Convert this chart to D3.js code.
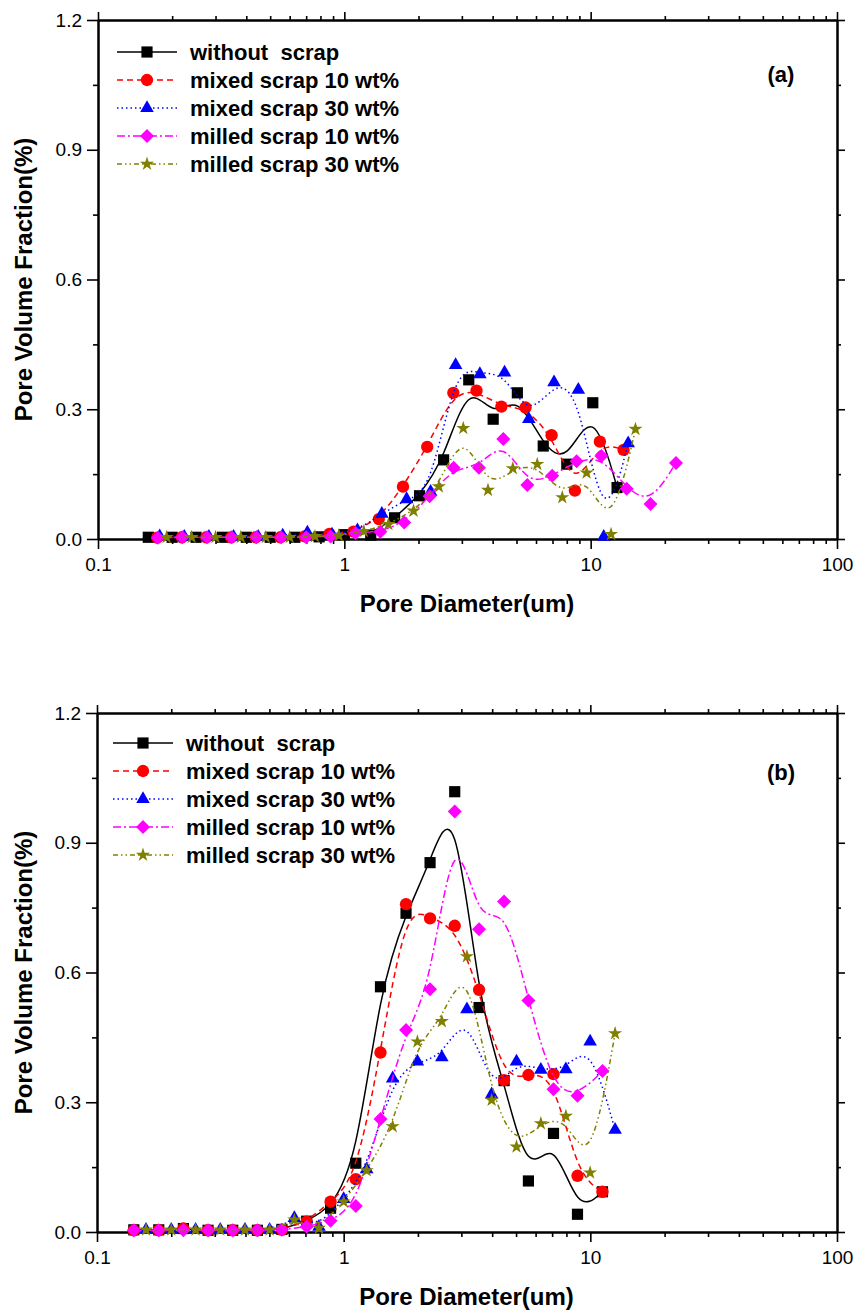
<!DOCTYPE html>
<html>
<head>
<meta charset="utf-8">
<script src="https://cdn.jsdelivr.net/npm/d3@7"></script>
<style>
  body { margin: 0; background: #fff; }
  text { font-family: Arial, "Liberation Sans", sans-serif; }
</style>
</head>
<body>
<div id="chart"></div>
<script>

// legend labels, one per series
const seriesNames = ["without  scrap", "mixed scrap 10 wt%", "mixed scrap 30 wt%", "milled scrap 10 wt%", "milled scrap 30 wt%"];

// tick labels
const xTicks = [0.1, 1, 10, 100];
const xTickLabels = ["0.1", "1", "10", "100"];
const yTicks = [0, 0.3, 0.6, 0.9, 1.2];
const yTickLabels = ["0.0", "0.3", "0.6", "0.9", "1.2"];

// ---- panel (a) : pore diameter (um) / pore volume fraction (%)
const diamA_without = [0.16, 0.2, 0.25, 0.32, 0.4, 0.5, 0.63, 0.79, 1.0, 1.28, 1.6, 2.02, 2.53, 3.2, 4.02, 5.04, 6.42, 8.0, 10.2, 12.8];
const fracA_without = [0.004, 0.004, 0.004, 0.004, 0.004, 0.004, 0.004, 0.005, 0.01, 0.009, 0.049, 0.10, 0.183, 0.368, 0.277, 0.338, 0.215, 0.173, 0.315, 0.119];

const diamA_mixed10 = [0.174, 0.219, 0.275, 0.347, 0.437, 0.55, 0.69, 0.87, 1.09, 1.38, 1.73, 2.17, 2.77, 3.44, 4.34, 5.44, 6.94, 8.63, 10.9, 13.6];
const fracA_mixed10 = [0.003, 0.004, 0.004, 0.004, 0.004, 0.004, 0.006, 0.012, 0.017, 0.046, 0.121, 0.213, 0.338, 0.343, 0.306, 0.304, 0.240, 0.112, 0.225, 0.206];

const diamA_mixed30 = [0.178, 0.224, 0.282, 0.355, 0.447, 0.562, 0.708, 0.891, 1.13, 1.42, 1.79, 2.24, 2.83, 3.55, 4.47, 5.61, 7.1, 8.91, 11.3, 14.2];
const fracA_mixed30 = [0.006, 0.005, 0.005, 0.005, 0.005, 0.008, 0.015, 0.01, 0.02, 0.058, 0.092, 0.109, 0.402, 0.381, 0.385, 0.277, 0.362, 0.345, 0.005, 0.221];

const diamA_milled10 = [0.175, 0.22, 0.277, 0.349, 0.44, 0.554, 0.70, 0.88, 1.11, 1.40, 1.75, 2.22, 2.78, 3.52, 4.42, 5.53, 6.98, 8.77, 11.05, 14.0, 17.5, 22.2];
const fracA_milled10 = [0.003, 0.004, 0.004, 0.004, 0.004, 0.004, 0.004, 0.006, 0.014, 0.017, 0.038, 0.099, 0.165, 0.165, 0.231, 0.125, 0.146, 0.180, 0.192, 0.116, 0.081, 0.176];

const diamA_milled30 = [0.19, 0.24, 0.30, 0.38, 0.48, 0.60, 0.76, 0.95, 1.20, 1.51, 1.91, 2.42, 3.04, 3.83, 4.83, 6.07, 7.67, 9.63, 12.1, 15.2];
const fracA_milled30 = [0.004, 0.004, 0.004, 0.004, 0.004, 0.004, 0.006, 0.008, 0.018, 0.034, 0.065, 0.121, 0.256, 0.113, 0.163, 0.173, 0.096, 0.153, 0.011, 0.254];

// ---- panel (b)
const diamB_without = [0.141, 0.178, 0.224, 0.282, 0.355, 0.447, 0.562, 0.708, 0.885, 1.12, 1.41, 1.79, 2.24, 2.82, 3.54, 4.47, 5.61, 7.09, 8.87, 11.2];
const fracB_without = [0.005, 0.005, 0.008, 0.004, 0.004, 0.004, 0.006, 0.025, 0.055, 0.159, 0.567, 0.737, 0.854, 1.018, 0.519, 0.35, 0.118, 0.228, 0.041, 0.093];

const diamB_mixed10 = [0.141, 0.178, 0.224, 0.282, 0.355, 0.447, 0.562, 0.708, 0.885, 1.12, 1.41, 1.79, 2.24, 2.82, 3.54, 4.47, 5.61, 7.09, 8.87, 11.2];
const fracB_mixed10 = [0.004, 0.004, 0.008, 0.004, 0.004, 0.004, 0.005, 0.024, 0.07, 0.122, 0.415, 0.758, 0.725, 0.708, 0.56, 0.351, 0.363, 0.365, 0.13, 0.093];

const diamB_mixed30 = [0.158, 0.2, 0.251, 0.316, 0.398, 0.501, 0.631, 0.794, 1.0, 1.24, 1.58, 1.99, 2.5, 3.16, 3.98, 5.02, 6.3, 7.96, 9.98, 12.6];
const fracB_mixed30 = [0.005, 0.005, 0.005, 0.005, 0.005, 0.005, 0.032, 0.012, 0.076, 0.145, 0.355, 0.394, 0.404, 0.515, 0.318, 0.394, 0.375, 0.376, 0.44, 0.236];

const diamB_milled10 = [0.141, 0.178, 0.224, 0.282, 0.355, 0.447, 0.562, 0.708, 0.885, 1.12, 1.41, 1.79, 2.24, 2.82, 3.54, 4.47, 5.61, 7.09, 8.87, 11.2];
const fracB_milled10 = [0.004, 0.004, 0.004, 0.004, 0.004, 0.004, 0.005, 0.012, 0.026, 0.06, 0.261, 0.467, 0.561, 0.972, 0.70, 0.764, 0.535, 0.33, 0.315, 0.372];

const diamB_milled30 = [0.158, 0.2, 0.251, 0.316, 0.398, 0.501, 0.631, 0.794, 1.0, 1.24, 1.58, 1.99, 2.5, 3.16, 3.98, 5.02, 6.3, 7.96, 9.98, 12.6];
const fracB_milled30 = [0.005, 0.005, 0.005, 0.005, 0.005, 0.005, 0.028, 0.009, 0.07, 0.142, 0.244, 0.44, 0.487, 0.637, 0.305, 0.197, 0.251, 0.268, 0.137, 0.459];


// series styles (Origin-like)
const styles = [
    {color: "#000000", dash: null,               symbol: "square"},
    {color: "#ff0000", dash: "6,4",              symbol: "circle"},
    {color: "#0000ff", dash: "1.5,3",            symbol: "triangle"},
    {color: "#ff00ff", dash: "8,3,2,3",          symbol: "diamond"},
    {color: "#808000", dash: "5,3,1.5,3,1.5,3",  symbol: "star"}
];

function markerPath(type) {
    if (type === "square") return d3.symbol(d3.symbolSquare, 125)();
    if (type === "circle") return d3.symbol(d3.symbolCircle, 120)();
    if (type === "triangle") return d3.symbol(d3.symbolTriangle, 80)();
    if (type === "star") return d3.symbol(d3.symbolStar, 62)();
    // diamond = square turned 45 degrees
    return "M0,-7L7,0L0,7L-7,0Z";
}

const svg = d3.select("#chart").append("svg")
    .attr("width", 859)
    .attr("height", 1316);

const panels = [
    {
        label: "(a)", top: 20, bottom: 539, left: 98, right: 837,
        legendX: 117, legendY: 52, labelY: 82,
        series: [
            [diamA_without, fracA_without],
            [diamA_mixed10, fracA_mixed10],
            [diamA_mixed30, fracA_mixed30],
            [diamA_milled10, fracA_milled10],
            [diamA_milled30, fracA_milled30]
        ]
    },
    {
        label: "(b)", top: 713, bottom: 1232, left: 97, right: 837,
        legendX: 113, legendY: 743, labelY: 780,
        series: [
            [diamB_without, fracB_without],
            [diamB_mixed10, fracB_mixed10],
            [diamB_mixed30, fracB_mixed30],
            [diamB_milled10, fracB_milled10],
            [diamB_milled30, fracB_milled30]
        ]
    }
];

panels.forEach(drawPanel);

function drawPanel(p) {
    let g = svg.append("g");

    let x = d3.scaleLog().domain([0.1, 100]).range([p.left, p.right]);
    let y = d3.scaleLinear().domain([0, 1.2]).range([p.bottom, p.top]);

    // minor ticks: 2..9 of each decade, and half steps on y
    let xMinor = x.ticks().filter(d => xTicks.indexOf(d) < 0);
    let yMinor = d3.range(0.15, 1.2, 0.3);

    // bottom axis
    g.append("g")
        .attr("class", "axis")
        .attr("transform", "translate(0," + p.bottom + ")")
        .call(d3.axisBottom(x).tickValues(xTicks)
            .tickFormat((d, i) => xTickLabels[i]).tickSize(10).tickSizeOuter(0).tickPadding(9));
    g.append("g")
        .attr("class", "axis minor")
        .attr("transform", "translate(0," + p.bottom + ")")
        .call(d3.axisBottom(x).tickValues(xMinor).tickFormat("").tickSize(5).tickSizeOuter(0));

    // top axis
    g.append("g")
        .attr("class", "axis")
        .attr("transform", "translate(0," + p.top + ")")
        .call(d3.axisTop(x).tickValues(xTicks).tickFormat("").tickSize(8).tickSizeOuter(0));
    g.append("g")
        .attr("class", "axis minor")
        .attr("transform", "translate(0," + p.top + ")")
        .call(d3.axisTop(x).tickValues(xMinor).tickFormat("").tickSize(4).tickSizeOuter(0));

    // left axis
    g.append("g")
        .attr("class", "axis")
        .attr("transform", "translate(" + p.left + ",0)")
        .call(d3.axisLeft(y).tickValues(yTicks)
            .tickFormat((d, i) => yTickLabels[i]).tickSize(11).tickSizeOuter(0).tickPadding(5));
    g.append("g")
        .attr("class", "axis minor")
        .attr("transform", "translate(" + p.left + ",0)")
        .call(d3.axisLeft(y).tickValues(yMinor).tickFormat("").tickSize(5).tickSizeOuter(0));

    // right axis
    g.append("g")
        .attr("class", "axis")
        .attr("transform", "translate(" + p.right + ",0)")
        .call(d3.axisRight(y).tickValues(yTicks).tickFormat("").tickSize(8).tickSizeOuter(0));
    g.append("g")
        .attr("class", "axis minor")
        .attr("transform", "translate(" + p.right + ",0)")
        .call(d3.axisRight(y).tickValues(yMinor).tickFormat("").tickSize(4).tickSizeOuter(0));

    g.selectAll(".axis path.domain")
        .attr("stroke", "#000")
        .attr("stroke-width", 2);
    g.selectAll(".axis line")
        .attr("stroke", "#000")
        .attr("stroke-width", 1.6);
    g.selectAll(".axis text")
        .attr("font-size", 19)
        .attr("fill", "#000");

    // axis titles
    g.append("text")
        .attr("x", (p.left + p.right) / 2 - 0.5)
        .attr("y", p.bottom + 73)
        .attr("text-anchor", "middle")
        .attr("font-weight", "bold")
        .attr("font-size", 24)
        .text("Pore Diameter(um)");

    g.append("text")
        .attr("transform", "translate(32," + ((p.top + p.bottom) / 2) + ") rotate(-90)")
        .attr("text-anchor", "middle")
        .attr("font-weight", "bold")
        .attr("font-size", 24)
        .text("Pore Volume Fraction(%)");

    // panel label
    g.append("text")
        .attr("x", 781)
        .attr("y", p.labelY)
        .attr("text-anchor", "middle")
        .attr("font-weight", "bold")
        .attr("font-size", 22)
        .text(p.label);

    // smooth B-spline through the points, like Origin's spline line
    let line = d3.line()
        .x(d => x(d[0]))
        .y(d => y(d[1]))
        .curve(d3.curveBasis);

    p.series.forEach(function(s, i) {
        let st = styles[i];
        let pts = s[0].map((d, j) => [d, s[1][j]]);

        g.append("path")
            .datum(pts)
            .attr("fill", "none")
            .attr("stroke", st.color)
            .attr("stroke-width", 1.5)
            .attr("stroke-dasharray", st.dash)
            .attr("d", line);

        g.selectAll(".m" + i)
            .data(pts)
            .enter().append("path")
            .attr("class", "m" + i)
            .attr("transform", d => "translate(" + x(d[0]) + "," + y(d[1]) + ")")
            .attr("d", markerPath(st.symbol))
            .attr("fill", st.color);
    });

    // legend
    let legend = g.append("g")
        .attr("transform", "translate(" + p.legendX + "," + p.legendY + ")");

    seriesNames.forEach(function(name, i) {
        let st = styles[i];
        let row = legend.append("g").attr("transform", "translate(0," + (i * 28) + ")");
        row.append("line")
            .attr("x1", 0).attr("x2", 60)
            .attr("stroke", st.color)
            .attr("stroke-width", 1.5)
            .attr("stroke-dasharray", st.dash);
        row.append("path")
            .attr("transform", "translate(30,0)")
            .attr("d", markerPath(st.symbol))
            .attr("fill", st.color);
        row.append("text")
            .attr("x", 73)
            .attr("y", 8)
            .attr("font-weight", "bold")
            .attr("font-size", 22)
            .style("white-space", "pre")
            .text(name);
    });
}

</script>
</body>
</html>
